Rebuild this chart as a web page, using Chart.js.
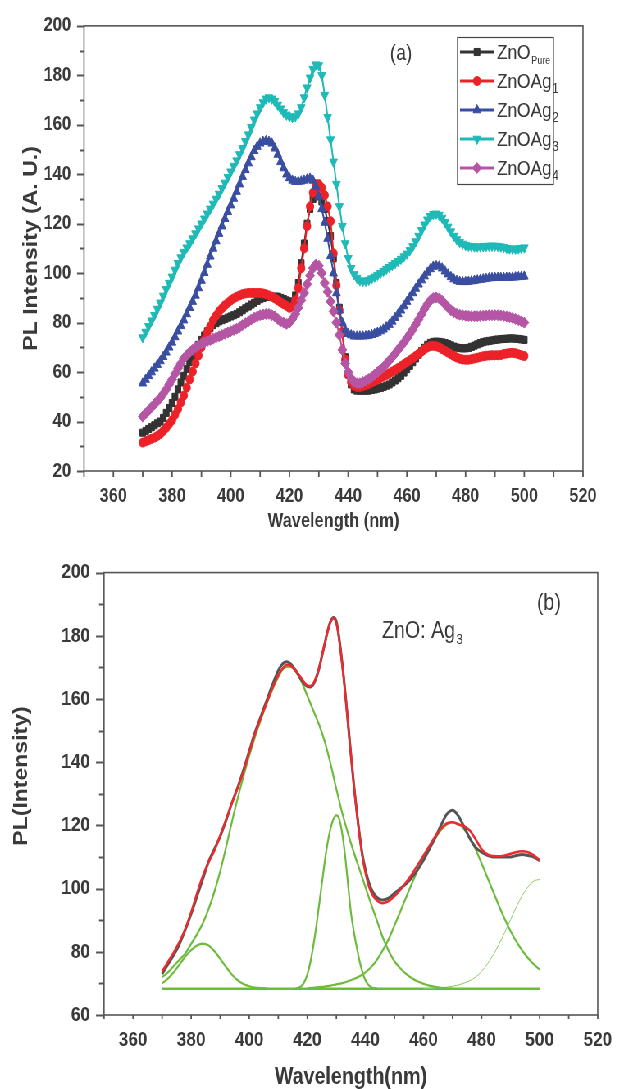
<!DOCTYPE html>
<html>
<head>
<meta charset="utf-8">
<script src="https://cdn.jsdelivr.net/npm/chart.js@4"></script>
<style>
  html, body { margin: 0; padding: 0; background: #fff; overflow: hidden; width: 624px; height: 1089px; }
  /* la figura original está comprimida en horizontal: se dibuja más ancha y se escala */
  #wrap { transform: scaleX(0.82); transform-origin: 0 0; width: 761px; }
  canvas { display: block; }
</style>
</head>
<body>
<div id="wrap">
<canvas id="chA" width="761" height="545"></canvas>
<canvas id="chB" width="761" height="544"></canvas>
</div>
<script>
// ---- datos (a): PL, 370-500 nm, paso 1 nm
const wlStart = 370, wlStep = 1;

const znoPure = [35.5,36.2,37,37.7,38.5,39.3,40,41.5,43.5,45.5,
  47.5,50,53,55.8,58.5,61.3,64,66.5,69,71,
  73,74.8,76.5,77.8,79,79.8,80.5,81,81.5,82,
  82.5,83,83.5,84.2,85,85.8,86.5,87.3,88,88.8,
  89.5,90,90.5,90.5,90.5,90.5,90.5,90,89.5,89,
  88.5,88.5,91,96,104,112,120,126,130,132,
  131,129,126,121,115,106,96,86,76,66,
  59,55,53,52.5,52.5,52.5,52.5,52.5,52.8,53,
  53.3,53.6,54,54.5,55,55.8,56.6,57.5,58.5,59.8,
  61.2,62.5,64,65.5,67,68.5,69.8,71,71.8,72.2,
  72.3,72.2,72,71.7,71.3,70.8,70.3,69.9,69.7,69.6,
  69.6,69.8,70.2,70.7,71.2,71.7,72.1,72.4,72.6,72.8,
  73,73.2,73.3,73.4,73.5,73.6,73.6,73.5,73.4,73.2,
  73];

const znoAg1 = [31.5,32,32.5,33,33.5,34.2,35,36.2,37.5,39,
  40.5,42.7,45,47.7,50.5,53.7,57,60.2,63.5,66.7,
  70,73,76,78.5,81,82.8,84.5,85.8,87,88,
  89,89.8,90.5,91,91.5,91.8,92,92,92,92,
  92,91.8,91.5,91,90.5,89.8,89,88.2,87.5,86.8,
  86,86.5,89,94,102,110,119,127,132.5,136,
  136,134.5,131.5,127,121,108,95,85,76,65,
  59,56,54.5,54,54,54.3,54.7,55.2,55.8,56.4,
  57,57.6,58.2,58.8,59.5,60.2,60.9,61.6,62.4,63.2,
  64,64.8,65.6,66.5,67.4,68.3,69.2,70,70.5,70.6,
  70.4,70,69.3,68.6,67.9,67.2,66.5,65.9,65.4,65.1,
  65,65,65.2,65.5,65.8,66.1,66.4,66.6,66.7,66.8,
  66.8,66.8,66.9,67.3,67.5,67.7,67.8,67.6,67.2,66.8,
  66.5];

const znoAg2 = [55.5,57,58.5,60,61.5,63,64.5,66.2,68,70,
  72,74.2,76.5,78.7,81,83.5,86,88.5,91,94,
  97,100.2,103.5,106.8,110,113,116,119,122,124.8,
  127.5,130.2,133,136,139,141.8,144.5,147,149.5,151.2,
  152.5,153.2,153.5,153.2,152.5,150.5,148,145,142.5,140,
  138.5,137.5,137,137,137.2,137.5,138,138.3,137.5,135,
  131,126,120.5,114,107,100,92,85,80,77,
  75.5,75,74.5,74.5,74.5,74.5,74.6,74.8,75.1,75.5,
  76,76.6,77.3,78.2,79.2,80.5,82,83.5,85,86.7,
  88.5,90.2,92,93.8,95.5,97.2,98.8,100.3,101.7,102.7,
  103,102.8,102,100.8,99.6,98.5,97.6,97,96.6,96.5,
  96.5,96.6,96.8,97,97.2,97.4,97.6,97.8,98,98.1,
  98.2,98.2,98.2,98.2,98.2,98.2,98.3,98.4,98.5,98.6,
  98.7];

const znoAg3 = [74,76.2,78.5,80.8,83,85.5,88,90.8,93.5,96,
  98.5,101.3,104,106.3,108.5,110.3,112,114,116,118,
  120,122,124,126,128,130,132,134.3,136.5,138.8,
  141,143.3,145.5,148,150.5,153.3,156,159,162,164.5,
  167,169,170.5,171,170.5,169.5,168,166.5,165,164,
  163.3,163,163.3,164.5,167,171,175,179,182.5,184.3,
  184,180,172,163,154,145,136,127,119,112,
  106,102,99.5,98,97,96.7,96.8,97.2,97.8,98.5,
  99.2,100,100.8,101.6,102.4,103.2,104,104.8,105.7,106.7,
  107.8,109.2,110.8,112.8,115,117.3,119.6,121.6,123,123.8,
  124,123.5,122.3,120.6,118.7,116.8,115,113.6,112.5,111.8,
  111.3,111,110.8,110.7,110.7,110.7,110.8,110.9,111,111,
  111,110.9,110.7,110.4,110.1,109.9,109.8,109.8,109.9,110.1,
  110.3];

const znoAg4 = [42,43.3,44.5,45.8,47,48.3,49.5,51.2,53,55,
  57,59.3,61.5,63.5,65.5,66.8,68,69,70,70.8,
  71.5,72,72.5,73,73.5,74,74.5,75,75.5,76,
  76.5,77,77.5,78.2,79,79.8,80.5,81.3,82,82.5,
  83,83.3,83.5,83.5,83,82.5,81.5,80.5,80,79.5,
  80,81.5,83.5,86,89,92,95.5,99,102,103.5,
  103,100,96,92.5,88.5,84.5,80,75,69,63.5,
  60,57.5,56,55.5,55.5,56,56.5,57.2,58,59,
  60,61,62,63.3,64.7,66,67.5,69,70.5,72,
  73.7,75.4,77.2,79.2,81.3,83.4,85.5,87.5,89,90,
  90.2,89.8,88.8,87.5,86.2,85,84.2,83.6,83.2,83,
  82.8,82.7,82.6,82.6,82.6,82.7,82.8,82.9,83,83,
  83,83,82.9,82.7,82.5,82.2,81.9,81.5,81,80.5,
  80];

const legMain = ['ZnO', 'ZnOAg', 'ZnOAg', 'ZnOAg', 'ZnOAg'];
const legSub  = ['Pure', '1', '2', '3', '4'];
const xTicksA = [360, 380, 400, 420, 440, 460, 480, 500, 520];
const yTicksA = [20, 40, 60, 80, 100, 120, 140, 160, 180, 200];

// ---- datos (b): ajuste ZnO:Ag3
const nmB = [370,372,374,376,378,380,382,384,386,388,390,392,394,396,398,400,402,404,406,408,410,
  411,412,413,414,415,416,417,418,419,420,421,422,423,424,425,426,427,428,429,430,
  431,432,433,434,435,436,437,438,439,440,441,442,443,444,445,446,
  448,450,452,454,456,458,460,462,464,466,468,470,472,474,476,478,480,482,484,486,488,490,492,494,496,498,500];

const ag3Data = [73,76,79,82.5,87,92,97.5,103,108.5,112.5,116.5,121.5,127,132,137.5,143.5,149.5,154.5,159.5,164.5,169,
  170.5,171.5,171.8,171.3,170.3,169,167.5,166,164.8,164,
  163.8,164.5,166.5,169.5,173.5,177.5,181.5,184.5,185.8,184.5,
  179,171.5,162.5,152.5,142.5,133,124.5,117,110.5,106,
  102.5,100,98.3,97.2,96.6,96.4,
  97,98.5,100,101.5,103.5,106,109,112.5,116,120,123.5,124.8,123,119.5,115.8,113,111.5,110.5,110,110,110,110,110.5,110.8,110.5,110,108.8];

const ag3Fit = [73.8,76.8,79.8,83.2,87.3,92.5,98.5,104,108.3,112,116.8,121.8,127,131.8,137,143.2,149,154,158.8,163.5,167.5,
  169,170.2,170.8,170.6,170,169,167.8,166.5,165.2,164.3,
  164.1,164.8,166.8,169.7,173.5,177.5,181.5,184.5,185.5,184,
  178.5,171,162.5,152.5,142.5,133,124.5,116.5,110,105,
  101.3,98.8,97.2,96.2,95.6,95.4,
  96,97.6,99.6,102,104.5,107.5,110.5,113.5,116.5,119,120.6,121,120.3,119.8,118.3,115.5,112.5,110.8,110.3,110.2,110.5,111,111.6,111.8,111.5,110.5,109];

// picos gaussianos
const pk1Nm  = [370,372,374,376,378,380,382,384,386,388,390,392,394,396,398,400,402,404,406];
const pk1Val = [70,71.5,73.5,76,78.5,80.5,82,82.6,82,80.2,77.8,75.2,72.8,71,69.8,69.1,68.7,68.5,68.4];

const pk2Nm  = [370,372,374,376,378,380,382,384,386,388,390,392,394,396,398,400,402,404,406,408,410,412,414,416,418,420,
  422,424,426,428,430,432,434,436,438,440,442,444,446,448,450,452,454,456,458,460,462,464,466,468,470];
const pk2Val = [72,73.5,75.5,77.5,79.5,82.5,85.5,89,93.5,99,105.5,113,121,128.5,135.5,142,148,153.5,158.5,163,167,169.8,170.2,168.8,165.5,161,
  156.5,152,146.5,139.5,131.5,124,117.5,111.5,106,100.5,95,89.8,84.5,80.3,77,74.8,73,71.6,70.6,69.9,69.3,68.9,68.6,68.4,68.3];

const pk3Nm  = [416,417,418,419,420,421,422,423,424,425,426,427,428,429,430,431,432,433,434,435,436,437,438,439,440,441,442,443,444];
const pk3Val = [68.4,68.6,69.2,70.5,72.8,76.5,81.5,87.5,94.5,101.5,108.5,114.5,119,122,123.2,122,117.5,110.5,101.5,92.5,86.5,81.5,77,73.5,71,69.6,68.8,68.5,68.4];

const pk4Nm  = [420,422,424,426,428,430,432,434,436,438,440,442,444,446,448,450,452,454,456,458,460,
  462,464,466,468,470,472,474,476,478,480,482,484,486,488,490,492,494,496,498,500];
const pk4Val = [68.5,68.6,68.8,69,69.3,69.7,70.1,70.7,71.4,72.3,73.5,75.2,77.5,80.5,84,88.3,92.7,97.2,101.6,105.8,109.6,
  113,116,118.5,120.3,121,120.5,118.8,116,112.3,108,103.5,99,94.5,90.3,86.5,83.2,80.4,78,76,74.4];

const pk5Nm  = [460,462,464,466,468,470,472,474,476,478,480,482,484,486,488,490,492,494,496,498,500];
const pk5Val = [68.3,68.4,68.5,68.6,68.8,69.1,69.5,70.1,70.9,72,73.8,76.2,79,82.4,86.2,90.2,94.3,97.8,100.6,102.4,102.9];

const baseNm  = [370, 500];
const baseVal = [68.3, 68.3];

const xTicksB = [360, 380, 400, 420, 440, 460, 480, 500, 520];
const yTicksB = [60, 80, 100, 120, 140, 160, 180, 200];

// ---- util
const S = 0.82;                 // compresión horizontal de la figura
const W = 761;                  // ancho del canvas antes de escalar
const px = v => v / S;          // coordenada de página -> canvas
const FONT = '"Liberation Sans", Arial, sans-serif';
const TXT = '#3a3a3a';
const pts = (xs, ys) => xs.map((x, i) => ({ x, y: ys[i] }));
const grid1 = ys => ys.map((y, i) => ({ x: wlStart + i * wlStep, y }));

// marco + ticks mayores/menores
const frameTicks = {
  id: 'frameTicks',
  afterDraw(chart, args, o) {
    const { ctx, chartArea: a, scales: { x, y } } = chart;
    ctx.save();
    ctx.strokeStyle = '#555';
    ctx.lineWidth = 1.6;
    ctx.strokeRect(a.left, a.top, a.right - a.left, a.bottom - a.top);
    ctx.beginPath();
    for (let v = y.min; v <= y.max; v += o.yMinor) {
      const py = Math.round(y.getPixelForValue(v)) + 0.5;
      const len = o.yTicks.includes(v) ? o.yMajor : o.yMin;
      ctx.moveTo(a.left - len, py); ctx.lineTo(a.left, py);
    }
    ctx.lineWidth = 1.8;
    for (let v = x.min; v <= x.max; v += o.xMinor) {
      const p = x.getPixelForValue(v);
      ctx.moveTo(p, a.bottom); ctx.lineTo(p, a.bottom + o.xLen);
    }
    ctx.stroke();
    ctx.restore();
  }
};

function subText(ctx, main, sub, x, y, font, subFont, dy) {
  ctx.font = font;
  ctx.fillText(main, x, y);
  const w = ctx.measureText(main).width;
  ctx.font = subFont;
  ctx.fillText(sub, x + w + 1, y + dy);
}

// leyenda (a) con subíndices
const legendA = {
  id: 'legendA',
  afterDraw(chart) {
    const ctx = chart.ctx;
    ctx.save();
    ctx.strokeStyle = '#444'; ctx.lineWidth = 1.2;
    ctx.strokeRect(px(457.5), 37.5, px(96), 147);
    chart.data.datasets.forEach((ds, i) => {
      const cy = 52 + i * 29;
      ctx.strokeStyle = ds.borderColor; ctx.lineWidth = 3;
      ctx.beginPath(); ctx.moveTo(px(460), cy); ctx.lineTo(px(494), cy); ctx.stroke();
      ctx.fillStyle = ds.borderColor; ctx.lineWidth = 1;
      Chart.helpers.drawPoint(ctx, { pointStyle: ds.pointStyle, rotation: ds.pointRotation || 0,
        radius: ds.pointRadius, borderWidth: 1 }, px(477), cy);
      ctx.fillStyle = TXT; ctx.textAlign = 'left'; ctx.textBaseline = 'alphabetic';
      subText(ctx, legMain[i], legSub[i], px(497), cy + 7, '21px ' + FONT,
        (i ? '14px ' : '11px ') + FONT, 5);
    });
    ctx.fillStyle = TXT; ctx.textAlign = 'center'; ctx.textBaseline = 'middle';
    ctx.font = '22px ' + FONT;
    ctx.fillText('(a)', px(401), 54);
    ctx.restore();
  }
};

// textos de (b); el título Y va un poco por encima del centro, como en el original
const labelsB = {
  id: 'labelsB',
  afterDraw(chart) {
    const ctx = chart.ctx;
    ctx.save();
    ctx.fillStyle = TXT; ctx.textAlign = 'center'; ctx.textBaseline = 'middle';
    ctx.font = '24px ' + FONT;
    ctx.fillText('(b)', px(549), 58);
    ctx.textAlign = 'left'; ctx.textBaseline = 'alphabetic';
    subText(ctx, 'ZnO: Ag', '3', px(382), 93, '24px ' + FONT, '15px ' + FONT, 6);
    ctx.translate(px(22), 231);
    ctx.rotate(-Math.PI / 2);
    ctx.textAlign = 'center'; ctx.textBaseline = 'middle';
    ctx.font = 'bold 23px ' + FONT;
    ctx.fillText('PL(Intensity)', 0, 0);
    ctx.restore();
  }
};

function axisX(ticks, title, tickSize, titleSize, pad, titlePadB) {
  return {
    type: 'linear', min: 350, max: 520,
    grid: { display: false, drawTicks: false }, border: { display: false },
    afterBuildTicks: s => { s.ticks = ticks.map(v => ({ value: v })); },
    afterFit: s => { s.height = 74; },
    ticks: { padding: pad, maxRotation: 0, autoSkip: false, color: TXT,
      font: { family: FONT, size: tickSize, weight: 'bold', lineHeight: 1 } },
    title: { display: true, text: title, color: TXT, padding: { top: 0, bottom: titlePadB },
      font: { family: FONT, size: titleSize, weight: 'bold', lineHeight: 1 } }
  };
}
function axisY(min, max, ticks, title, tickSize, pad, titlePadT, width) {
  return {
    min, max,
    grid: { display: false, drawTicks: false }, border: { display: false },
    afterBuildTicks: s => { s.ticks = ticks.map(v => ({ value: v })); },
    afterFit: s => { s.width = width; },
    ticks: { padding: pad, color: TXT,
      font: { family: FONT, size: tickSize, weight: 'bold', lineHeight: 1 } },
    title: { display: !!title, text: title, color: TXT, padding: { top: titlePadT, bottom: 0 },
      font: { family: FONT, size: 23, weight: 'bold', lineHeight: 1 } }
  };
}

function serie(label, ys, color, style, radius, order, rot) {
  return {
    label, data: grid1(ys), order,
    borderColor: color, backgroundColor: color, borderWidth: 2,
    pointStyle: style, pointRadius: radius, pointRotation: rot || 0,
    pointBackgroundColor: color, pointBorderColor: color, pointBorderWidth: 1,
    tension: 0
  };
}

// ---- gráfico (a)
new Chart(document.getElementById('chA'), {
  type: 'line',
  data: {
    datasets: [
      serie('ZnO Pure', znoPure, '#333333', 'rect', 5, 5),
      serie('ZnOAg1', znoAg1, '#ec2228', 'circle', 4.5, 4),
      serie('ZnOAg2', znoAg2, '#3a4ea1', 'triangle', 5.5, 3),
      serie('ZnOAg3', znoAg3, '#1fbab7', 'triangle', 5.5, 2, 180),
      serie('ZnOAg4', znoAg4, '#b556a5', 'rectRot', 5.5, 1)
    ]
  },
  options: {
    responsive: false, animation: false, devicePixelRatio: 1,
    layout: { padding: { left: 0, top: 15, right: W - px(583), bottom: 0 } },
    plugins: {
      legend: { display: false }, tooltip: { enabled: false },
      frameTicks: { yTicks: yTicksA, yMinor: 10, yMajor: px(7), yMin: px(4), xMinor: 10, xLen: 6 }
    },
    scales: {
      x: axisX(xTicksA, 'Wavelength (nm)', 20, 20, 15, 14),
      y: axisY(20, 200, yTicksA, 'PL Intensity (A. U.)', 20, px(13), px(32) - 11.5, px(84))
    }
  },
  plugins: [frameTicks, legendA]
});

// ---- gráfico (b)
function curva(label, xs, ys, color, width, order) {
  return {
    label, data: pts(xs, ys), order,
    borderColor: color, backgroundColor: color, borderWidth: width,
    pointRadius: 0, cubicInterpolationMode: 'monotone'
  };
}
const GREEN = '#6cbb3c';
new Chart(document.getElementById('chB'), {
  type: 'line',
  data: {
    datasets: [
      curva('Datos', nmB, ag3Data, '#555555', 3, 2),
      curva('Ajuste', nmB, ag3Fit, '#ee2a2e', 2.5, 1),
      curva('Pico 1', pk1Nm, pk1Val, GREEN, 2.2, 3),
      curva('Pico 2', pk2Nm, pk2Val, GREEN, 2.2, 3),
      curva('Pico 3', pk3Nm, pk3Val, GREEN, 2.2, 3),
      curva('Pico 4', pk4Nm, pk4Val, GREEN, 2.2, 3),
      curva('Pico 5', pk5Nm, pk5Val, '#86cc5e', 1, 3),
      curva('Base', baseNm, baseVal, GREEN, 2.5, 3)
    ]
  },
  options: {
    responsive: false, animation: false, devicePixelRatio: 1,
    layout: { padding: { left: 0, top: 15, right: W - px(598), bottom: 0 } },
    plugins: {
      legend: { display: false }, tooltip: { enabled: false },
      frameTicks: { yTicks: yTicksB, yMinor: 10, yMajor: px(8), yMin: px(5), xMinor: 10, xLen: 4 }
    },
    scales: {
      x: axisX(xTicksB, 'Wavelength(nm)', 21, 24, 14.5, 0),
      y: axisY(60, 200, yTicksB, '', 21, px(14), 0, px(104))
    }
  },
  plugins: [frameTicks, labelsB]
});
</script>
</body>
</html>
